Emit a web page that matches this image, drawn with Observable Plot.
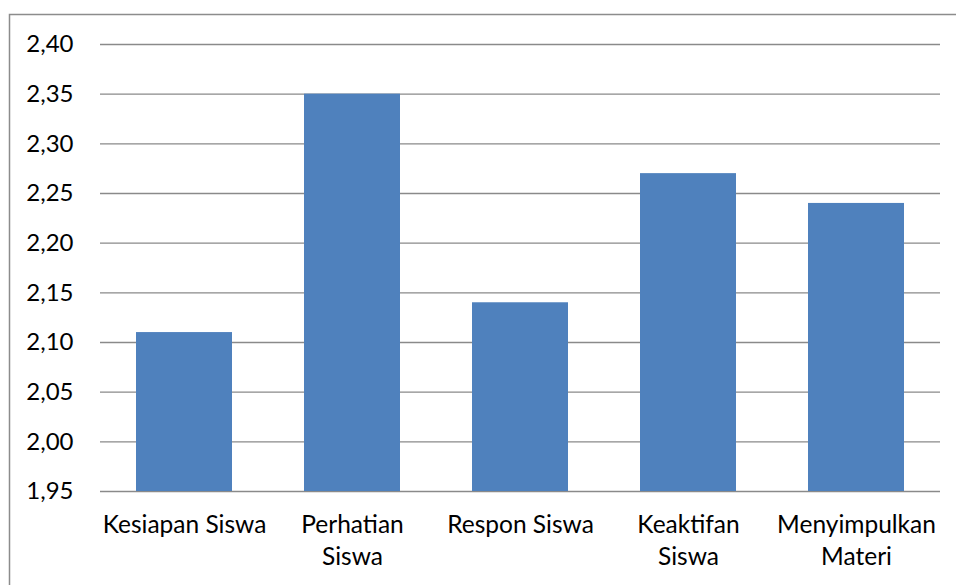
<!DOCTYPE html>
<html>
<head>
<meta charset="utf-8">
<script src="https://cdn.jsdelivr.net/npm/d3@7"></script>
<script src="https://cdn.jsdelivr.net/npm/@observablehq/plot@0.6"></script>
<style>
  html, body { margin: 0; padding: 0; background: #fff; }
  #chart svg { display: block; }
</style>
</head>
<body>
<div id="chart"></div>
<script>
// Rata-rata skor tiap aspek pengamatan siswa
const categories = ["Kesiapan Siswa", "Perhatian Siswa", "Respon Siswa", "Keaktifan Siswa", "Menyimpulkan Materi"];
const tickLabels = ["Kesiapan Siswa", "Perhatian\nSiswa", "Respon Siswa", "Keaktifan\nSiswa", "Menyimpulkan\nMateri"];
const values = [2.11, 2.35, 2.14, 2.27, 2.24];
const yTicks = [1.95, 2.00, 2.05, 2.10, 2.15, 2.20, 2.25, 2.30, 2.35, 2.40];
const baseline = 1.95;

const data = categories.map((c, i) => ({category: c, value: values[i]}));
const labelOf = new Map(categories.map((c, i) => [c, tickLabels[i]]));
const fmt = d => d.toFixed(2).replace(".", ",");

const W = 956, H = 585;
const font = "Lato, 'Open Sans', sans-serif";

const chart = Plot.plot({
  width: W,
  height: H,
  marginLeft: 100,
  marginRight: 16,
  marginTop: 44,
  marginBottom: 94,
  style: {fontFamily: font, fontSize: "24px", color: "#000", background: "#fff"},
  x: {domain: categories, paddingInner: 0.43, paddingOuter: 0.215},
  y: {domain: [baseline, yTicks[yTicks.length - 1]]},
  marks: [
    Plot.gridY(yTicks, {stroke: "#8a8a8a", strokeOpacity: 1, strokeWidth: 1.3}),
    Plot.barY(data, {x: "category", y1: baseline, y2: "value", fill: "#4F81BD"}),
    Plot.axisY(yTicks, {tickSize: 0, tickPadding: 27, tickFormat: fmt, fill: "#000", fontSize: 24, label: null}),
    Plot.axisX({tickSize: 0, tickPadding: 19, tickFormat: d => labelOf.get(d), fill: "#000", fontSize: 24.5, lineHeight: 1.3, label: null})
  ]
});

// outer chart border
d3.select(chart).append("rect")
  .attr("x", 9.5).attr("y", 14.5)
  .attr("width", W + 10).attr("height", H + 10)
  .attr("fill", "none").attr("stroke", "#8c8c8c").attr("stroke-width", 1.5);

document.getElementById("chart").appendChild(chart);
</script>
</body>
</html>
